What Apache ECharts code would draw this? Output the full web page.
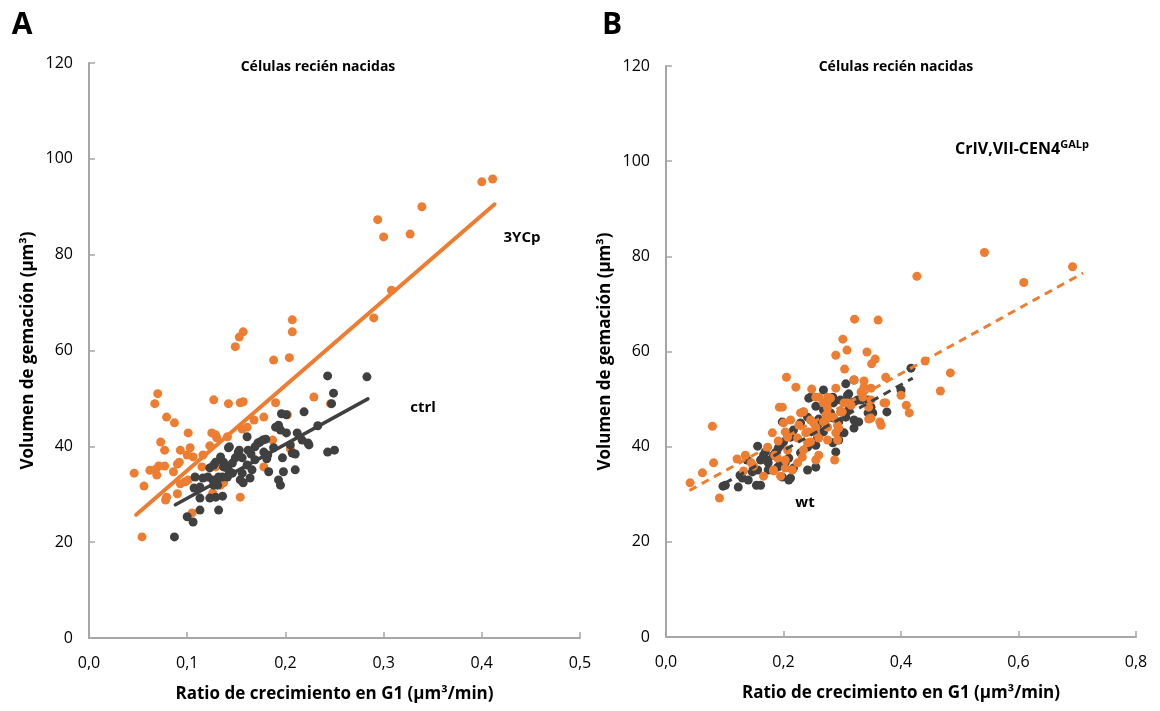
<!DOCTYPE html>
<html>
<head>
<meta charset="utf-8">
<script src="https://cdn.jsdelivr.net/npm/echarts@6/dist/echarts.min.js"></script>
<style>
  html, body { margin: 0; padding: 0; background: #ffffff; }
  #chart { width: 1160px; height: 711px; }
</style>
</head>
<body>
<div id="chart"></div>
<script>
// Panel A: newborn cells, 3YCp vs ctrl
const aOrange = [
  [0.046,34.4],[0.054,21.1],[0.056,31.7],[0.062,35.0],[0.068,35.2],[0.071,35.9],[0.069,34.0],
  [0.073,40.9],[0.077,39.2],[0.070,51.0],[0.067,48.9],[0.079,46.1],[0.087,44.9],[0.077,35.9],
  [0.079,29.4],[0.078,28.8],[0.086,34.7],[0.090,36.3],[0.092,36.7],[0.090,30.1],[0.093,39.2],
  [0.093,32.2],[0.101,42.8],[0.100,38.2],[0.101,33.0],[0.098,32.6],[0.103,39.7],[0.106,37.8],
  [0.105,26.1],[0.116,38.2],[0.115,35.7],[0.123,40.1],[0.125,42.8],[0.127,49.7],[0.129,42.4],
  [0.130,41.8],[0.126,30.3],[0.129,35.7],[0.134,31.9],[0.137,32.4],[0.141,42.0],[0.142,48.9],
  [0.149,60.8],[0.153,62.8],[0.157,63.9],[0.154,49.1],[0.157,49.3],[0.154,29.4],[0.156,43.6],
  [0.161,44.0],[0.168,45.5],[0.178,46.1],[0.178,35.7],[0.187,41.3],[0.188,58.0],[0.190,49.1],
  [0.202,46.6],[0.204,58.5],[0.205,39.5],[0.207,66.4],[0.207,63.9],[0.229,50.3],[0.246,48.9],
  [0.290,66.8],[0.294,87.3],[0.300,83.7],[0.308,72.6],[0.327,84.3],[0.339,90.0],[0.400,95.2],
  [0.411,95.8]
];
const aBlack = [
  [0.087,21.1],[0.100,25.3],[0.106,24.2],[0.113,26.7],[0.132,26.7],[0.107,31.3],[0.108,33.6],
  [0.116,33.4],[0.113,29.2],[0.123,29.2],[0.129,29.4],[0.136,29.6],[0.113,31.5],[0.127,31.9],
  [0.131,31.9],[0.121,33.6],[0.136,33.6],[0.123,35.5],[0.127,36.1],[0.129,36.7],[0.137,36.7],
  [0.134,37.8],[0.142,35.1],[0.141,35.7],[0.146,36.5],[0.142,39.7],[0.143,39.9],[0.149,37.6],
  [0.152,38.8],[0.153,39.2],[0.154,33.0],[0.157,32.4],[0.161,36.1],[0.164,33.4],[0.166,35.1],
  [0.161,42.0],[0.165,38.4],[0.172,40.7],[0.174,40.9],[0.180,41.5],[0.181,37.4],[0.182,38.2],
  [0.183,34.7],[0.188,39.7],[0.190,44.0],[0.193,44.4],[0.193,33.0],[0.195,31.9],[0.195,43.4],
  [0.196,46.8],[0.197,37.6],[0.198,34.7],[0.201,42.8],[0.201,46.6],[0.205,40.3],[0.207,38.6],
  [0.210,38.4],[0.210,35.1],[0.212,42.8],[0.217,41.3],[0.219,47.2],[0.223,40.7],[0.224,40.3],
  [0.233,44.3],[0.243,38.8],[0.250,39.2],[0.243,54.7],[0.247,48.9],[0.249,51.1],[0.283,54.5],
  [0.137,35.7],[0.156,37.6],[0.162,39.2],[0.169,39.9],[0.177,41.3],[0.178,38.8],[0.169,37.2],
  [0.156,34.4],[0.146,34.4],[0.141,33.6],[0.132,33.6],[0.126,33.0]
];
const aOrangeTrend = [[0.048,25.7],[0.413,90.5]];
const aBlackTrend = [[0.088,27.8],[0.284,49.9]];

// Panel B: newborn cells, CrIV,VII-CEN4 GALp vs wt
const bOrange = [
  [0.041,32.4],[0.062,34.5],[0.079,44.3],[0.081,36.6],[0.091,29.2],[0.121,37.4],[0.132,34.9],
  [0.135,38.2],[0.145,36.6],[0.149,35.9],[0.166,33.8],[0.181,42.9],[0.183,34.9],[0.185,38.2],
  [0.190,37.6],[0.191,41.2],[0.193,48.3],[0.195,33.8],[0.198,48.3],[0.200,45.0],[0.203,43.1],
  [0.203,37.2],[0.203,35.5],[0.205,54.6],[0.207,42.0],[0.207,39.3],[0.212,45.6],[0.221,52.5],
  [0.224,41.8],[0.226,44.5],[0.232,37.8],[0.234,47.3],[0.234,39.3],[0.238,42.9],[0.241,40.8],
  [0.243,43.1],[0.246,45.6],[0.246,41.0],[0.248,52.1],[0.251,45.0],[0.255,50.4],[0.255,42.9],
  [0.255,44.1],[0.255,37.2],[0.260,50.4],[0.260,38.2],[0.260,41.8],[0.268,45.2],[0.268,49.2],
  [0.272,45.6],[0.272,46.6],[0.274,49.2],[0.275,50.4],[0.275,48.1],[0.275,44.1],[0.275,41.4],
  [0.280,50.2],[0.287,37.2],[0.289,59.2],[0.289,52.3],[0.289,42.9],[0.292,44.5],[0.292,41.4],
  [0.294,43.9],[0.297,47.3],[0.300,47.3],[0.301,62.6],[0.303,49.2],[0.304,56.3],[0.308,60.3],
  [0.315,48.7],[0.320,54.0],[0.321,66.8],[0.332,51.5],[0.335,50.4],[0.337,52.5],[0.337,53.8],
  [0.342,59.9],[0.345,48.3],[0.345,45.8],[0.349,49.8],[0.349,52.3],[0.349,46.0],[0.350,57.4],
  [0.356,58.4],[0.361,66.6],[0.364,45.2],[0.366,44.5],[0.371,49.2],[0.374,54.6],[0.374,49.2],
  [0.400,50.8],[0.409,48.7],[0.414,47.1],[0.427,75.8],[0.441,58.0],[0.467,51.7],[0.484,55.5],
  [0.542,80.8],[0.609,74.5],[0.692,77.8],
  [0.285,46.2],[0.309,49.2],[0.229,47.1],[0.173,39.9],[0.224,36.6],[0.215,35.1],[0.183,35.1]
];
const bBlack = [
  [0.097,31.7],[0.101,31.9],[0.123,31.5],[0.126,34.0],[0.130,33.4],[0.138,37.2],[0.147,34.7],
  [0.149,35.7],[0.154,31.9],[0.156,40.1],[0.161,31.9],[0.161,37.2],[0.166,38.2],[0.169,38.9],
  [0.173,37.2],[0.174,36.6],[0.183,38.2],[0.186,38.7],[0.191,39.7],[0.195,36.8],[0.195,40.3],
  [0.198,45.2],[0.198,33.6],[0.200,41.0],[0.203,36.6],[0.207,42.4],[0.209,33.0],[0.209,37.6],
  [0.212,42.0],[0.212,33.4],[0.217,35.5],[0.229,45.0],[0.234,47.3],[0.241,39.9],[0.241,35.1],
  [0.241,46.2],[0.243,50.2],[0.246,50.4],[0.255,48.5],[0.255,35.7],[0.255,40.3],[0.258,42.0],
  [0.258,44.5],[0.260,45.8],[0.268,51.9],[0.268,43.1],[0.284,50.4],[0.284,40.8],[0.285,49.2],
  [0.285,46.0],[0.289,38.9],[0.292,42.9],[0.294,45.2],[0.294,41.4],[0.303,42.9],[0.306,53.2],
  [0.306,46.2],[0.309,50.8],[0.311,51.1],[0.311,47.7],[0.320,54.0],[0.320,49.4],[0.320,45.6],
  [0.320,43.9],[0.326,49.8],[0.328,45.2],[0.344,49.8],[0.349,48.3],[0.352,47.1],[0.376,47.3],
  [0.400,51.9],[0.417,56.5],
  [0.297,49.8],[0.332,49.8],[0.344,47.1],[0.280,47.1],[0.268,47.7],[0.217,43.5],[0.229,38.7],
  [0.190,35.7],[0.174,35.1],[0.140,33.0],[0.156,35.1]
];
const bOrangeTrend = [[0.040,30.8],[0.710,76.5]];
const bBlackTrend = [[0.100,32.3],[0.420,54.4]];

const yTicks = { min: 0, max: 120, interval: 20 };
const xTicksA = { min: 0, max: 0.5, interval: 0.1 };
const xTicksB = { min: 0, max: 0.8, interval: 0.2 };

const ORANGE = '#ED7D31';
const DARK = '#404040';
const AXIS = '#a6a6a6';
const FONT = '"Open Sans", "Noto Sans", sans-serif';

function xAxisCfg(gridIndex, t) {
  return {
    type: 'value', gridIndex, min: t.min, max: t.max, interval: t.interval,
    name: 'Ratio de crecimiento en G1 (µm³/min)',
    nameLocation: 'middle', nameGap: 48,
    nameTextStyle: { fontFamily: FONT, fontWeight: 'bold', fontSize: 17, color: '#000' },
    axisLine: { show: true, lineStyle: { color: AXIS, width: 2 } },
    axisTick: { show: true, inside: true, length: 6, lineStyle: { color: AXIS, width: 1.5 } },
    axisLabel: { margin: 17, fontFamily: FONT, fontSize: 16, color: '#000',
      formatter: v => v.toFixed(1).replace('.', ',') },
    splitLine: { show: false }
  };
}
function yAxisCfg(gridIndex) {
  return {
    type: 'value', gridIndex, min: yTicks.min, max: yTicks.max, interval: yTicks.interval,
    name: 'Volumen de gemación (µm³)',
    nameLocation: 'middle', nameGap: 52, nameRotate: 90,
    nameTextStyle: { fontFamily: FONT, fontWeight: 'bold', fontSize: 17, color: '#000' },
    axisLine: { show: true, lineStyle: { color: AXIS, width: 2 } },
    axisTick: { show: true, inside: true, length: 6, lineStyle: { color: AXIS, width: 1.5 } },
    axisLabel: { margin: 16, fontFamily: FONT, fontSize: 16, color: '#000' },
    splitLine: { show: false }
  };
}
function dots(data, color, idx, z) {
  return { type: 'scatter', xAxisIndex: idx, yAxisIndex: idx, data, symbol: 'circle',
    symbolSize: 9, itemStyle: { color, opacity: 1 }, z, silent: true };
}
function trend(data, color, idx, width, dashed) {
  return { type: 'line', xAxisIndex: idx, yAxisIndex: idx, data, symbol: 'none', z: 5,
    lineStyle: { color, width, type: dashed ? [8, 6] : 'solid', cap: dashed ? 'butt' : 'round' },
    silent: true };
}
function txt(x, y, text, size, align) {
  return { type: 'text', x, y, style: { text, fontFamily: FONT, fontWeight: 'bold',
    fontSize: size, fill: '#000', textAlign: align || 'center', textVerticalAlign: 'middle' } };
}

const chart = echarts.init(document.getElementById('chart'), null, { renderer: 'canvas' });
chart.setOption({
  animation: false,
  backgroundColor: '#ffffff',
  grid: [
    { left: 89, top: 63, width: 491, height: 575 },
    { left: 666, top: 66, width: 470, height: 571 }
  ],
  xAxis: [xAxisCfg(0, xTicksA), xAxisCfg(1, xTicksB)],
  yAxis: [yAxisCfg(0), yAxisCfg(1)],
  series: [
    dots(aOrange, ORANGE, 0, 2),
    dots(aBlack, DARK, 0, 3),
    trend(aOrangeTrend, ORANGE, 0, 4, false),
    trend(aBlackTrend, DARK, 0, 3.5, false),
    dots(bBlack, DARK, 1, 2),
    dots(bOrange, ORANGE, 1, 3),
    trend(bOrangeTrend, ORANGE, 1, 3, true),
    trend(bBlackTrend, DARK, 1, 3, true)
  ],
  graphic: [
    txt(22, 25, 'A', 30),
    txt(612, 25, 'B', 30),
    txt(318, 67, 'Células recién nacidas', 14),
    txt(896, 67, 'Células recién nacidas', 14),
    txt(522, 238, '3YCp', 15),
    txt(423, 408, 'ctrl', 15),
    txt(805, 503, 'wt', 15),
    {
      type: 'text', x: 955, y: 157,
      style: {
        text: '{m|CrIV,VII-CEN4}{s|GALp}',
        textVerticalAlign: 'bottom',
        rich: {
          m: { fontFamily: FONT, fontWeight: 'bold', fontSize: 16, fill: '#000', verticalAlign: 'bottom' },
          s: { fontFamily: FONT, fontWeight: 'bold', fontSize: 11, fill: '#000', verticalAlign: 'top', padding: [0, 0, 7, 0] }
        }
      }
    }
  ]
});
</script>
</body>
</html>
